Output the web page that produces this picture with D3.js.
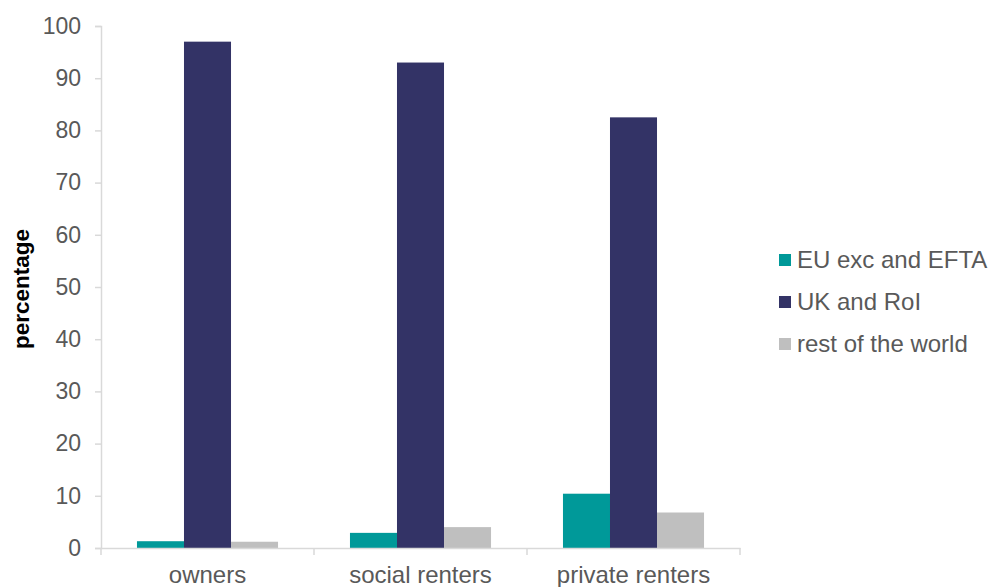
<!DOCTYPE html>
<html>
<head>
<meta charset="utf-8">
<script src="https://cdn.jsdelivr.net/npm/d3@7"></script>
<style>
  html, body { margin: 0; padding: 0; background: #fff; }
  svg { display: block; font-family: "Liberation Sans", Arial, sans-serif; }
</style>
</head>
<body>
<svg id="chart" width="990" height="587"></svg>
<script>
const categories = ["owners", "social renters", "private renters"];
const seriesNames = ["EU exc and EFTA", "UK and RoI", "rest of the world"];
const euValues = [1.3, 2.9, 10.4];
const ukValues = [97.0, 93.0, 82.5];
const rowValues = [1.2, 4.0, 6.8];
const yTicks = [0, 10, 20, 30, 40, 50, 60, 70, 80, 90, 100];
const seriesColors = ["#009999", "#333366", "#bfbfbf"];

const seriesValues = [euValues, ukValues, rowValues];
const data = categories.map((c, i) => ({
  category: c,
  values: seriesNames.map((s, j) => ({ series: s, value: seriesValues[j][i], idx: j }))
}));

const svg = d3.select("#chart");
const plotLeft = 101, plotRight = 740, plotTop = 26, plotBottom = 548;
const axisColor = "#d9d9d9";
const textColor = "#595959";

const x0 = d3.scaleBand().domain(categories).range([plotLeft, plotRight]).padding(0);
const x1 = d3.scaleBand().domain(seriesNames).range([0, x0.bandwidth()]).paddingInner(0).paddingOuter(0.765);
const y = d3.scaleLinear().domain([0, 100]).range([plotBottom, plotTop]);
const color = d3.scaleOrdinal().domain(seriesNames).range(seriesColors);

// Bars
svg.append("g").selectAll("g").data(data).join("g")
  .attr("transform", d => `translate(${x0(d.category)},0)`)
  .selectAll("rect").data(d => d.values).join("rect")
  .attr("x", d => x1(d.series))
  .attr("width", x1.bandwidth())
  .attr("y", d => y(d.value))
  .attr("height", d => y(0) - y(d.value))
  .attr("fill", d => color(d.series));

// Y axis
const yAxis = d3.axisLeft(y).tickValues(yTicks).tickSize(6).tickPadding(14);
const gy = svg.append("g").attr("transform", `translate(${plotLeft},0)`).call(yAxis);
gy.select(".domain").attr("stroke", axisColor).attr("stroke-width", 1.5);
gy.selectAll(".tick line").attr("stroke", axisColor).attr("stroke-width", 1.5);
gy.selectAll(".tick text").attr("fill", textColor).attr("font-size", 23)
  .attr("font-family", "Liberation Sans, Arial, sans-serif");

// X axis
const xAxis = d3.axisBottom(x0).tickSize(0).tickPadding(18);
const gx = svg.append("g").attr("transform", `translate(0,${plotBottom})`).call(xAxis);
gx.select(".domain").attr("stroke", axisColor).attr("stroke-width", 1.5);
gx.selectAll(".tick text").attr("fill", textColor).attr("font-size", 24)
  .attr("font-family", "Liberation Sans, Arial, sans-serif")
  .attr("dy", "0.71em");
// category separator ticks
const sepPositions = categories.map(c => x0(c)).concat([x0(categories[categories.length - 1]) + x0.bandwidth()]);
gx.selectAll("line.sep").data(sepPositions).join("line").attr("class", "sep")
  .attr("x1", d => d).attr("x2", d => d).attr("y1", 0).attr("y2", 7)
  .attr("stroke", axisColor).attr("stroke-width", 1.5);

// Y axis title
svg.append("text")
  .attr("transform", `translate(29,289) rotate(-90)`)
  .attr("text-anchor", "middle")
  .attr("font-size", 22.5)
  .attr("font-weight", "bold")
  .attr("fill", "#000")
  .text("percentage");

// Legend
const legend = svg.append("g").attr("transform", "translate(779,260)");
const li = legend.selectAll("g").data(seriesNames).join("g")
  .attr("transform", (d, i) => `translate(0,${i * 42})`);
li.append("rect").attr("x", 0).attr("y", -6).attr("width", 12).attr("height", 12)
  .attr("fill", d => color(d));
li.append("text").attr("x", 18).attr("y", 0).attr("dy", "0.35em")
  .attr("font-size", 24).attr("fill", textColor).text(d => d);
</script>
</body>
</html>
